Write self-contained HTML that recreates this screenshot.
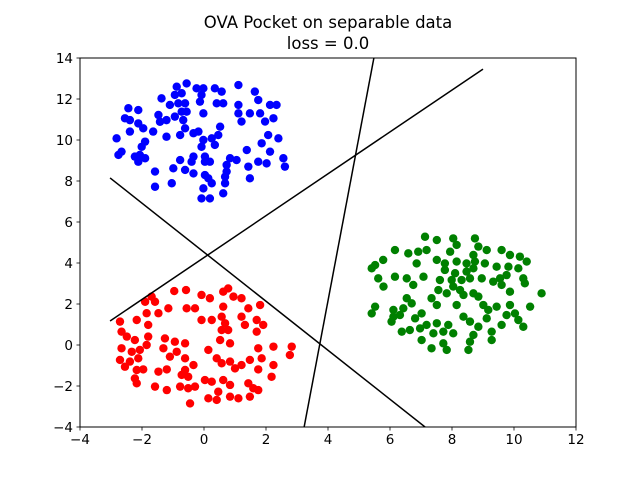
<!DOCTYPE html>
<html><head><meta charset="utf-8"><style>
body{margin:0;background:#fff;}
svg{display:block;font-family:"DejaVu Sans","Liberation Sans",sans-serif;}
</style></head><body>
<svg id="chart" width="640" height="480">
<rect width="640" height="480" fill="#fff"/>
<text x="328" y="28" text-anchor="middle" font-size="16.5">OVA Pocket on separable data</text>
<text x="328" y="49" text-anchor="middle" font-size="16.5">loss = 0.0</text>
<clipPath id="clip"><rect x="80" y="58" width="496" height="369"/></clipPath>
<g id="points" clip-path="url(#clip)"></g>
<g id="lines" clip-path="url(#clip)"></g>
<rect x="80" y="58" width="496" height="369" fill="none" stroke="#000" stroke-width="1"/>
<g id="ticks"></g>
</svg>
<script>
const blueX=[-0.56,-0.88,-0.94,-0.72,-0.24,-0.02,0.35,0.57,1.11,1.64,-1.37,-1.10,-0.83,-0.61,-0.13,-0.08,0.41,0.62,1.11,1.75,2.13,2.34,-2.44,-2.12,-2.55,-2.39,-1.47,-1.21,-0.94,-0.72,-0.56,-0.02,1.11,1.48,1.81,1.97,2.24,1.21,-2.12,-1.96,-2.39,-1.64,-1.42,-0.67,-0.61,-0.77,-0.34,-0.18,0.52,0.46,-2.82,-1.21,-0.02,0.25,0.35,-0.08,-1.90,-2.01,2.07,2.40,1.86,-2.66,-2.76,-2.23,-2.07,-1.90,-2.12,-0.77,-0.34,-0.40,0.03,0.03,0.19,0.84,1.05,0.73,1.38,1.75,2.02,2.13,2.56,2.61,1.43,-0.99,-0.61,-0.34,-1.58,0.03,0.14,0.73,0.68,0.68,1.48,-1.04,-1.58,-0.02,0.25,-0.08,0.19,0.62];
const blueY=[12.76,12.60,12.20,12.28,12.52,12.52,12.52,12.36,12.68,12.36,12.03,11.71,11.79,11.79,11.87,12.20,11.79,11.79,11.71,11.95,11.71,11.71,11.55,11.46,11.06,10.97,11.22,10.97,11.14,11.38,11.38,11.30,11.30,11.30,11.30,10.90,11.06,10.90,10.81,10.57,10.41,10.41,10.89,10.97,10.57,10.24,10.33,10.41,10.65,10.24,10.08,10.16,10.00,10.08,9.76,9.67,9.92,9.67,10.24,10.08,9.84,9.43,9.27,9.19,9.27,9.11,8.94,9.02,9.19,8.94,9.19,8.94,8.94,9.11,9.02,8.78,9.51,8.94,8.86,9.43,9.11,8.70,8.70,8.62,8.54,8.37,8.46,8.29,8.13,8.46,8.21,7.89,8.13,7.89,7.72,7.64,7.89,7.15,7.15,7.40];
const redX=[-0.96,-0.58,-0.08,0.19,0.62,0.78,0.95,1.21,-1.69,-1.90,-1.58,-1.85,-1.47,-1.15,-0.56,-0.29,0.62,1.43,1.81,1.21,-2.71,-2.17,-1.80,-0.08,0.25,0.57,0.68,0.57,0.78,1.32,1.70,1.91,1.70,-2.66,-2.49,-2.23,-1.80,-1.26,0.52,0.84,-0.94,-0.61,-1.85,-2.66,-2.33,-2.07,-1.31,-0.88,-1.10,-0.61,0.14,1.75,2.24,2.83,2.77,-2.71,-2.39,-2.12,0.41,0.57,0.84,1.00,1.21,1.48,1.86,2.24,-2.55,-2.17,-1.96,-1.47,-1.20,-0.72,-0.61,-0.34,-0.51,1.75,-2.23,-2.17,0.03,0.25,0.62,0.84,1.43,1.59,1.75,2.18,-1.58,-1.20,-0.77,-0.51,-0.29,0.46,0.14,0.41,0.84,1.11,1.48,-0.45];
const redY=[2.63,2.68,2.44,2.28,2.60,2.76,2.36,2.28,2.36,2.11,2.11,1.55,1.55,1.79,1.79,1.79,1.87,1.79,1.95,1.38,1.14,1.22,0.98,1.22,1.22,1.38,1.06,0.73,0.73,0.98,1.22,0.98,0.65,0.65,0.41,0.24,0.41,0.32,0.24,0.08,0.16,0.08,0.00,-0.16,-0.33,-0.24,-0.16,-0.33,-0.57,-0.65,-0.24,-0.16,-0.08,-0.08,-0.49,-0.73,-0.81,-0.65,-0.65,-0.89,-0.81,-1.14,-0.98,-0.73,-0.65,-0.98,-1.06,-1.22,-1.19,-1.30,-1.19,-1.46,-1.22,-0.98,-1.55,-1.19,-1.63,-1.87,-1.71,-1.79,-1.71,-1.95,-1.87,-2.11,-2.20,-1.55,-2.03,-2.20,-2.03,-2.11,-2.03,-2.28,-2.60,-2.68,-2.52,-2.60,-2.52,-2.85];
const greenX=[7.13,7.51,8.04,8.15,8.74,8.85,9.12,9.60,6.16,6.59,6.91,7.18,7.94,8.69,9.87,10.19,10.41,5.78,5.52,5.41,6.86,7.51,7.77,8.15,8.47,8.74,9.06,9.44,9.82,10.14,7.77,8.10,8.47,8.69,9.76,5.62,5.79,6.16,6.54,6.75,7.08,7.61,7.99,8.31,8.58,8.96,9.33,9.55,10.30,10.35,8.04,8.26,9.60,9.87,10.89,7.56,7.83,8.37,8.69,8.85,7.34,7.51,6.54,6.70,6.43,6.11,5.52,5.41,8.15,9.01,9.17,9.44,9.87,10.52,6.11,6.32,7.02,6.81,6.05,8.37,8.58,9.12,9.76,10.03,10.14,10.30,9.60,7.18,7.51,7.88,8.85,6.38,6.64,6.97,7.40,7.72,8.04,8.69,9.28,9.28,7.02,7.34,7.72,7.83,8.58,8.53];
const greenY=[5.28,5.12,5.20,4.88,5.20,4.80,4.63,4.63,4.63,4.47,4.55,4.63,4.55,4.39,4.39,4.31,4.07,4.15,3.90,3.74,3.98,4.15,3.98,4.07,3.98,4.07,3.98,3.82,3.82,3.74,3.66,3.50,3.58,3.74,3.41,3.25,2.85,3.33,3.25,2.93,3.33,3.17,3.17,3.17,3.25,3.25,3.09,3.25,3.25,3.01,2.85,2.68,2.93,2.60,2.52,2.68,2.52,2.44,2.52,2.36,2.28,1.95,2.28,2.03,1.79,1.71,1.87,1.54,1.95,1.95,1.71,1.87,1.95,1.87,1.38,1.46,1.54,1.30,1.14,1.38,1.14,1.30,1.46,1.54,1.22,0.89,0.98,0.98,1.06,0.98,0.89,0.65,0.73,0.81,0.57,0.65,0.57,0.49,0.65,0.24,0.24,-0.16,0.08,-0.24,0.16,-0.24];
const lineX1=[-3.03,-3.03,3.23];
const lineY1=[8.15,1.17,-4];
const lineX2=[7.13,9.0,5.48];
const lineY2=[-4,13.46,14];
const xTicks=[-4,-2,0,2,4,6,8,10,12];
const yTicks=[-4,-2,0,2,4,6,8,10,12,14];

const NS="http://www.w3.org/2000/svg";
const L=80,R=576,T=58,B=427,xmin=-4,xmax=12,ymin=-4,ymax=14;
function sx(v){return L+(v-xmin)/(xmax-xmin)*(R-L);}
function sy(v){return B-(v-ymin)/(ymax-ymin)*(B-T);}
function mk(tag,attrs,parent){const e=document.createElementNS(NS,tag);for(const k in attrs)e.setAttribute(k,attrs[k]);parent.appendChild(e);return e;}
const pg=document.getElementById('points');
function series(xs,ys,color,name){
  for(let i=0;i<xs.length;i++){
    const c=mk('circle',{cx:sx(xs[i]),cy:sy(ys[i]),r:4.2,fill:color},pg);
    
    
  }
}
series(blueX,blueY,'#0000ff','blue-point');
series(redX,redY,'#ff0000','red-point');
series(greenX,greenY,'#008000','green-point');
const lg=document.getElementById('lines');
for(let i=0;i<lineX1.length;i++){
  const l=mk('line',{x1:sx(lineX1[i]),y1:sy(lineY1[i]),x2:sx(lineX2[i]),y2:sy(lineY2[i]),stroke:'#000','stroke-width':1.5},lg);
  
  
}
const tg=document.getElementById('ticks');
xTicks.forEach(v=>{
  const x=sx(v);
  const t=mk('line',{x1:x,y1:B,x2:x,y2:B+3.5,stroke:'#000','stroke-width':0.8},tg);
  
  
  const tx=mk('text',{x:x,y:B+17,'text-anchor':'middle','font-size':13.5},tg);
  tx.textContent=(v<0?'\u2212'+(-v):v);
  
  
});
yTicks.forEach(v=>{
  const y=sy(v);
  const t=mk('line',{x1:L-3.5,y1:y,x2:L,y2:y,stroke:'#000','stroke-width':0.8},tg);
  
  
  const tx=mk('text',{x:L-7,y:y+5,'text-anchor':'end','font-size':13.5},tg);
  tx.textContent=(v<0?'\u2212'+(-v):v);
  
  
});
</script>
</body></html>
